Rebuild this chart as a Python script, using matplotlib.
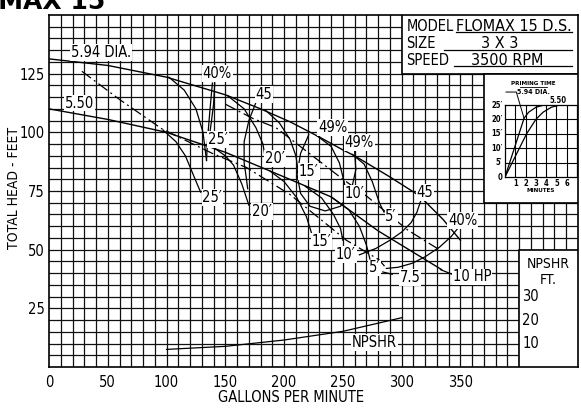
import matplotlib.pyplot as plt
from matplotlib.patches import Rectangle

plt.rcParams["font.family"] = ["DejaVu Sans", "Liberation Sans"]
plt.rcParams["font.stretch"] = "condensed"

# ---------------------------------------------------------------------------
# Data (GPM, feet)
# ---------------------------------------------------------------------------
Q_594 = [0, 50, 100, 150, 180, 205, 230, 250, 260, 290, 315, 335, 350]
H_594 = [131.3, 128.5, 123.5, 116, 110, 104.5, 98, 92.5, 90, 81, 73, 63, 54]
Q_550 = [0, 50, 100, 150, 200, 240, 280, 334]
H_550 = [110, 105.5, 100, 91.5, 81, 72.5, 58, 41.5]

# suction lift branches off the 5.94 curve
LIFT_594 = {
    "25": ([102, 115, 125, 131, 134], [123.5, 118, 110, 100, 88]),
    "20": ([152, 166, 176, 182, 184], [115.6, 110, 102, 95, 89]),
    "15": ([184, 196, 205, 210, 211.5], [109.5, 104, 97, 90, 85]),
    "10": ([228, 240, 247, 251, 253], [98.5, 94, 87, 79, 74]),
    "5": ([258, 268, 275, 281, 285], [90.6, 86.5, 79, 70, 66]),
}
# suction lift branches off the 5.50 curve
LIFT_550 = {
    "25": ([97, 108, 116, 121, 126, 129], [101, 96, 90, 84, 78, 74.5]),
    "20": ([140, 150, 157, 164, 170], [93.5, 90, 86, 78, 69]),
    "15": ([188, 200, 211, 219, 224], [83.5, 79, 72, 64, 56]),
    "10": ([218, 232, 242, 248, 250], [77, 72, 65, 59, 54]),
    "5": ([240, 255, 264, 270, 273], [72.5, 67, 60, 52, 46]),
}

# efficiency curves
E40_LEFT_A = ([139, 137, 135, 134], [121, 110, 98, 88])
E40_LEFT_B = ([141, 140, 138, 136], [121, 112, 104, 97])
E45_LEFT = ([177, 170, 166, 166, 168, 169], [114, 105, 96, 87, 80, 76])
E49 = ([221, 214, 211, 214, 222, 235, 248, 257, 261, 260, 258],
       [99, 91, 82, 74, 68.5, 66.5, 68.5, 75, 84, 92, 95])
E45_RIGHT = ([317, 313, 308, 300, 290, 278, 264], [72, 66, 61.5, 57.5, 54, 50.5, 47.8])
E40_RIGHT = ([350, 342, 332, 320, 309, 297, 287], [60.5, 55.5, 51, 47, 44.2, 42.5, 42])

# horsepower lines
HP75 = ([28, 60, 96, 139, 168, 205, 253, 281, 287], [126, 114, 101.5, 91, 85, 73.5, 54, 45.6, 42])
HP10 = ([150, 173, 193, 250, 271, 305, 332], [112, 106, 102, 80, 72.5, 58.4, 50])

# NPSHR curve
NPSHR_Q = [100, 150, 200, 250, 300]
NPSHR_H = [7.5, 8.8, 11.5, 15.2, 21]

# priming time inset (minutes, feet of lift)
PRIME_594_T = [0, 0.5, 1, 1.5, 1.85, 2.3, 3, 3.8]
PRIME_594_L = [0, 5.5, 11, 16.5, 20.4, 22.5, 24.2, 25]
PRIME_550_T = [0, 0.7, 1.4, 2.1, 3, 3.7, 4.5, 5.3]
PRIME_550_L = [0, 5, 10, 15, 20, 22.5, 24.2, 25]

X_TICKS = [0, 50, 100, 150, 200, 250, 300, 350]
Y_TICKS = [25, 50, 75, 100, 125]
NPSHR_TICKS = [30, 20, 10]

# ---------------------------------------------------------------------------
fig = plt.figure(figsize=(5.81, 4.13), dpi=100)
ax = fig.add_axes([49 / 581, 46 / 413, 529 / 581, 352 / 413])
ax.set_xlim(0, 450)
ax.set_ylim(0, 150)

for x in range(10, 450, 10):
    ax.axvline(x, color="#111111", lw=0.9, zorder=1)
for y in range(5, 150, 5):
    ax.axhline(y, color="#111111", lw=0.9, zorder=1)

for s in ax.spines.values():
    s.set_linewidth(1.2)
ax.set_xticks(X_TICKS)
ax.set_yticks(Y_TICKS)
ax.tick_params(length=0, labelsize=10.5, pad=6)
ax.tick_params(axis="y", pad=3)
fig.text(291 / 581, 1 - 398 / 413, "GALLONS PER MINUTE", fontsize=10.5,
         ha="center", va="center")
fig.text(14 / 581, 1 - 188 / 413, "TOTAL HEAD - FEET", fontsize=10,
         ha="center", va="center", rotation=90)

LW = 1.0
ax.plot(Q_594, H_594, color="black", lw=LW, zorder=3)
ax.plot(Q_550, H_550, color="black", lw=LW, zorder=3)
for q, h in list(LIFT_594.values()) + list(LIFT_550.values()):
    ax.plot(q, h, color="black", lw=0.9, zorder=3)
for q, h in [E40_LEFT_A, E40_LEFT_B, E45_LEFT, E49, E45_RIGHT, E40_RIGHT]:
    ax.plot(q, h, color="black", lw=0.9, zorder=3)
for q, h in [HP75, HP10]:
    ax.plot(q, h, color="black", lw=0.9, ls=(0, (9, 3, 1.5, 3)), zorder=3)
ax.plot(NPSHR_Q, NPSHR_H, color="black", lw=0.9, zorder=3)


def label(x, y, s, size=10.5):
    ax.text(x, y, s, ha="center", va="center", fontsize=size, zorder=6,
            bbox=dict(fc="white", ec="none", pad=0.6))


label(44, 134, "5.94 DIA.")
label(26, 112.5, "5.50")
for s, (x, y) in zip(["25′", "20′", "15′", "10′", "5′"],
                     [(144, 96.8), (192, 88.7), (221, 83.4), (260, 73.8), (291, 64)]):
    label(x, y, s)
for s, (x, y) in zip(["25′", "20′", "15′", "10′", "5′"],
                     [(139, 72.3), (181, 66.3), (232, 53.5), (252.5, 47.8), (277, 42.2)]):
    label(x, y, s)
label(143, 125, "40%")
label(183, 116, "45")
label(241.5, 102, "49%")
label(264, 95.7, "49%")
label(320, 74.4, "45")
label(352, 62.3, "40%")
label(307, 38.2, "7.5")
label(360, 38.4, "10 HP")
label(277, 10.4, "NPSHR")
ax.plot([284, 292], [40.5, 39.5], color="black", lw=0.9, zorder=3)
ax.plot([333, 343], [41.5, 39.5], color="black", lw=0.9, zorder=3)

# model box
ax.add_patch(Rectangle((300, 125), 150, 25, fc="white", ec="black", lw=1.2, zorder=4))
for txt, y in [("MODEL", 143), ("SIZE", 135.8), ("SPEED", 128.8)]:
    ax.text(304, y, txt, fontsize=10.5, va="baseline", zorder=6)
ax.text(395, 143, "FLOMAX 15 D.S.", fontsize=11.5, ha="center", va="baseline", zorder=6)
ax.text(383, 135.8, "3 X 3", fontsize=11.5, ha="center", va="baseline", zorder=6)
ax.text(390, 128.8, "3500 RPM", fontsize=11.5, ha="center", va="baseline", zorder=6)
for x0, y in [(346, 142.6), (336, 135.2), (344.7, 128.4)]:
    ax.plot([x0, 445], [y, y], color="black", lw=0.9, zorder=6)

# priming box and NPSHR box
ax.add_patch(Rectangle((370, 70), 80, 55, fc="white", ec="black", lw=1.2, zorder=4))
ax.add_patch(Rectangle((400, 0), 50, 50, fc="white", ec="black", lw=1.2, zorder=4))
ax.text(425, 44, "NPSHR", fontsize=10, ha="center", va="center", zorder=6)
ax.text(425, 37, "FT.", fontsize=10, ha="center", va="center", zorder=6)
for v in NPSHR_TICKS:
    ax.text(402.5, v, str(v), fontsize=10.5, ha="left", va="center", zorder=6)

# priming inset
pax = fig.add_axes([505 / 581, 236 / 413, 72 / 581, 72 / 413])
pax.set_xlim(0, 7)
pax.set_ylim(0, 25)
for x in range(1, 7):
    pax.axvline(x, color="black", lw=0.8)
for y in range(5, 25, 5):
    pax.axhline(y, color="black", lw=0.8)
for s in pax.spines.values():
    s.set_linewidth(0.9)
pax.set_xticks([])
pax.set_yticks([])
pax.plot(PRIME_594_T, PRIME_594_L, color="black", lw=0.9)
pax.plot(PRIME_550_T, PRIME_550_L, color="black", lw=0.9)
for v in [0, 5, 10, 15, 20, 25]:
    lbl = "0" if v == 0 else f"{v}′"
    pax.text(-0.25, v, lbl, fontsize=5.5, weight="bold", ha="right", va="center")
for m in range(1, 7):
    pax.text(m, -2.4, str(m), fontsize=5.5, weight="bold", ha="center", va="center")
pax.text(3.5, -4.8, "MINUTES", fontsize=4.5, weight="bold", ha="center", va="center")
pax.text(2.8, 32.5, "PRIMING TIME", fontsize=4.5, weight="bold", ha="center", va="center")
pax.plot([1.5, 4.1], [31.2, 31.2], color="black", lw=0.6, clip_on=False)
pax.text(1.2, 29.5, "5.94 DIA.", fontsize=5, weight="bold", ha="left", va="center")
pax.plot([0.1, 1.1, 1.85], [29.5, 29.5, 20.4], color="black", lw=0.7, clip_on=False)
pax.text(5.2, 26.6, "5.50", fontsize=5.5, weight="bold", ha="center", va="center")

# header, cropped at top edge
fig.text(105 / 581, 1 - 9 / 413, "FLOMAX 15", fontsize=18, weight="bold",
         stretch="normal", ha="right", va="baseline")

fig.savefig("out.png", dpi=100)
